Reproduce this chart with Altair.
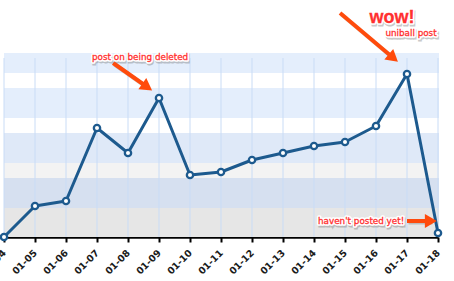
import altair as alt
import pandas as pd

# ---- data ----
dates = ["01-04", "01-05", "01-06", "01-07", "01-08", "01-09", "01-10", "01-11",
         "01-12", "01-13", "01-14", "01-15", "01-16", "01-17", "01-18"]
visits = [0, 31, 36, 109, 84, 139, 62, 65, 77, 84, 91, 95, 111, 163, 4]

# background stripes (value ranges)
band_lo = [0, 29, 59, 74, 104, 119, 149, 164]
band_hi = [29, 59, 74, 104, 119, 149, 164, 184]
band_color = ["#e6e6e6", "#d6e0f0", "#f3f3f3", "#dfe9f8", "#ffffff", "#e4eefc", "#ffffff", "#e4eefc"]

# annotations
note_text = ["post on being deleted", "wow!", "uniball post", "haven't posted yet!"]
note_x = [4.39, 12.52, 13.13, 11.52]
note_y = [180, 219, 204, 16]
note_size = [8.8, 18, 8.8, 8.8]
note_weight = ["normal", "bold", "normal", "normal"]
note_font = ["DejaVu Sans", "Liberation Sans", "DejaVu Sans", "DejaVu Sans"]

arrow_x0 = [3.52, 10.84, 13.0]
arrow_y0 = [174, 224, 16]
arrow_x1 = [4.62, 12.56, 13.77]
arrow_y1 = [150, 179, 16]
arrow_angle = [125, 130, 90]

W, H = 434, 184
YMAX = 184
GRID_TOP = 179

idx = list(range(len(dates)))
df = pd.DataFrame({"i": idx, "date": dates, "v": visits})
bands = pd.DataFrame({"lo": band_lo, "hi": band_hi, "c": band_color})
notes = pd.DataFrame({"t": note_text, "x": note_x, "y": note_y, "s": note_size,
                      "w": note_weight, "f": note_font})
arrows = pd.DataFrame({"x0": arrow_x0, "y0": arrow_y0, "x1": arrow_x1,
                       "y1": arrow_y1, "a": arrow_angle})

xscale = alt.Scale(domain=[0, len(dates) - 1], nice=False, zero=False)
yscale = alt.Scale(domain=[0, YMAX], nice=False)

label_expr = "[" + ",".join("'%s'" % d for d in dates) + "][datum.value]"
xaxis = alt.Axis(values=idx, labelExpr=label_expr, title=None, grid=False,
                 domainColor="#000000", domainWidth=2.5,
                 tickColor="#000000", tickWidth=2, tickSize=5,
                 labelAngle=-45, labelAlign="right", labelBaseline="middle",
                 labelFont="DejaVu Sans", labelFontWeight="bold",
                 labelFontSize=9.5, labelColor="#1a1a1a", labelPadding=9,
                 labelOverlap=False, labelBound=False, labelFlush=False)

band_layer = alt.Chart(bands).mark_rect().encode(
    x=alt.value(0), x2=alt.value(W + 1),
    y=alt.Y("lo:Q", scale=yscale, axis=None), y2="hi:Q",
    fill=alt.Fill("c:N", scale=None),
)

grid_layer = alt.Chart(df).transform_calculate(
    g0="0", g1=str(GRID_TOP)
).mark_rule(color="#c9dcf6", strokeWidth=1).encode(
    x=alt.X("i:Q", scale=xscale, axis=xaxis),
    y=alt.Y("g0:Q", scale=yscale, axis=None), y2="g1:Q",
)

line = alt.Chart(df).mark_line(color="#1d5a8e", strokeWidth=3, strokeJoin="round").encode(
    x=alt.X("i:Q", scale=xscale, axis=xaxis),
    y=alt.Y("v:Q", scale=yscale, axis=None),
)

pts = alt.Chart(df).mark_point(filled=True, fill="white", stroke="#1d5a8e",
                               strokeWidth=2.3, size=40, opacity=1, shape="circle").encode(
    x=alt.X("i:Q", scale=xscale, axis=xaxis), y=alt.Y("v:Q", scale=yscale, axis=None),
)

ARROW = "#ff4b0c"
arrow_shadow = alt.Chart(arrows).mark_rule(color="#000000", opacity=0.18, strokeWidth=4,
                                           xOffset=1.5, yOffset=1.5, x2Offset=1.5, y2Offset=1.5).encode(
    x=alt.X("x0:Q", scale=xscale, axis=xaxis), y=alt.Y("y0:Q", scale=yscale, axis=None),
    x2="x1:Q", y2="y1:Q",
)
arrow_body = alt.Chart(arrows).mark_rule(color=ARROW, strokeWidth=4).encode(
    x=alt.X("x0:Q", scale=xscale, axis=xaxis), y=alt.Y("y0:Q", scale=yscale, axis=None),
    x2="x1:Q", y2="y1:Q",
)
arrow_head = alt.Chart(arrows).mark_point(shape="triangle-up", filled=True, fill=ARROW,
                                          opacity=1, size=190, strokeWidth=0).encode(
    x=alt.X("x1:Q", scale=xscale, axis=xaxis), y=alt.Y("y1:Q", scale=yscale, axis=None),
    angle=alt.Angle("a:Q", scale=None),
)


def text_layer(**kw):
    enc = dict(
        x=alt.X("x:Q", scale=xscale, axis=xaxis), y=alt.Y("y:Q", scale=yscale, axis=None),
        text="t:N", size=alt.Size("s:Q", scale=None),
    )
    layers = []
    for f in sorted(set(note_font)):
        for w in sorted(set(note_weight)):
            sub = notes[(notes.f == f) & (notes.w == w)]
            if len(sub) == 0:
                continue
            layers.append(alt.Chart(sub).mark_text(align="center", baseline="middle",
                                                   font=f, fontWeight=w, **kw).encode(**enc))
    return alt.layer(*layers)


txt_shadow = text_layer(fill="#666666", stroke="#666666", strokeWidth=3, opacity=0.35, dx=1, dy=1.5)
txt_outline = text_layer(fill="white", stroke="white", strokeWidth=3.5, strokeJoin="round")
txt_fill = text_layer(fill="#ff2f2f", stroke="#ff2f2f", strokeWidth=0.3)

chart = alt.layer(
    band_layer, grid_layer, line, pts,
    arrow_shadow, arrow_body, arrow_head,
    txt_shadow, txt_outline, txt_fill,
).properties(
    width=W, height=H,
    padding={"left": 4, "top": 53, "right": 16, "bottom": 44},
    autosize=alt.AutoSizeParams(type="none"),
    background="white",
).configure_view(stroke=None)

chart.save("out.html", embed_options={"renderer": "svg", "actions": False})
